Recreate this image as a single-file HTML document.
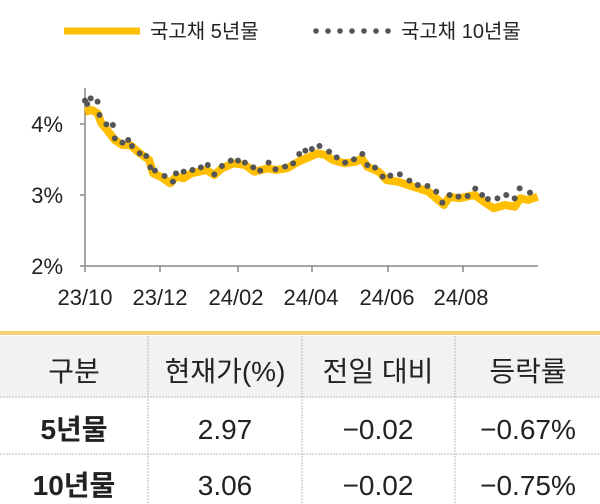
<!DOCTYPE html>
<html><head><meta charset="utf-8"><style>
body{margin:0;width:600px;height:504px;background:#fff;overflow:hidden;font-family:"Liberation Sans","Noto Sans CJK KR",sans-serif;}
svg{position:absolute;left:0;top:0}
</style></head><body>
<svg id="s" width="600" height="504" xmlns="http://www.w3.org/2000/svg" font-family="Liberation Sans, Noto Sans CJK KR, sans-serif">
<line x1="64" y1="31" x2="140" y2="31" stroke="#ffbf00" stroke-width="7"/>
<text x="150" y="38" font-size="20" fill="#222">국고채 5년물</text>
<g fill="#555"><circle cx="316" cy="31" r="2.8"/><circle cx="328" cy="31" r="2.8"/><circle cx="340" cy="31" r="2.8"/><circle cx="352" cy="31" r="2.8"/><circle cx="364" cy="31" r="2.8"/><circle cx="376" cy="31" r="2.8"/><circle cx="388" cy="31" r="2.8"/></g>
<text x="401" y="38" font-size="20" fill="#222">국고채 10년물</text>
<g stroke="#888" stroke-width="1.5">
<line x1="85" y1="88" x2="85" y2="266"/><line x1="85" y1="266" x2="538" y2="266"/>
<line x1="80" y1="266" x2="85" y2="266"/><line x1="80" y1="195" x2="85" y2="195"/><line x1="80" y1="124" x2="85" y2="124"/>
<line x1="85" y1="266" x2="85" y2="272"/><line x1="160" y1="266" x2="160" y2="272"/><line x1="238" y1="266" x2="238" y2="272"/><line x1="312" y1="266" x2="312" y2="272"/><line x1="388" y1="266" x2="388" y2="272"/><line x1="463" y1="266" x2="463" y2="272"/>
</g>
<g font-size="22" fill="#222" text-anchor="end">
<text x="63" y="132">4%</text><text x="63" y="203">3%</text><text x="63" y="274">2%</text></g>
<g font-size="22" fill="#222" text-anchor="middle">
<text x="85" y="305">23/10</text><text x="160" y="305">23/12</text><text x="236" y="305">24/02</text><text x="311" y="305">24/04</text><text x="387" y="305">24/06</text><text x="461" y="305">24/08</text></g>
<g id="ch"></g>
<rect x="0" y="331" width="600" height="4" fill="#f7d27a"/>
<rect x="0" y="336" width="600" height="61" fill="#f2f2f2"/>
<g stroke="#bbb" stroke-width="1" stroke-dasharray="2,1">
<line x1="0" y1="397" x2="600" y2="397"/><line x1="0" y1="454" x2="600" y2="454"/>
<line x1="148" y1="336" x2="148" y2="504"/><line x1="302" y1="336" x2="302" y2="504"/><line x1="455" y1="336" x2="455" y2="504"/>
</g>
<g font-size="28" fill="#222" text-anchor="middle">
<text x="74" y="381">구분</text><text x="225" y="381">현재가(%)</text><text x="378" y="381">전일 대비</text><text x="528" y="381">등락률</text>
<text x="74" y="439" font-weight="bold">5년물</text><text x="225" y="439">2.97</text><text x="378" y="439">−0.02</text><text x="528" y="439">−0.67%</text>
<text x="74" y="495" font-weight="bold">10년물</text><text x="225" y="495">3.06</text><text x="378" y="495">−0.02</text><text x="528" y="495">−0.75%</text>
</g>
</svg>
<script>
var fx=600/1568,ns="http://www.w3.org/2000/svg",g=document.getElementById("ch");
function P(a){return [a[0]*fx,80+a[1]/3];}
var L=[[222,95],[240,90],[255,100],[265,130],[280,150],[300,180],[320,195],[340,195],[360,215],[390,240],[400,280],[420,290],[445,310],[460,290],[480,295],[500,280],[540,270],[560,285],[580,265],[610,250],[640,255],[665,275],[700,265],[720,270],[750,265],[780,245],[800,235],[830,220],[850,225],[870,240],[900,250],[930,245],[945,235],[960,260],[990,275],[1010,300],[1040,305],[1080,320],[1120,335],[1150,365],[1160,375],[1175,350],[1200,355],[1240,345],[1270,370],[1290,385],[1320,375],[1345,380],[1360,355],[1380,360],[1405,350]];
var d=L.map(function(a,i){var p=P(a);return (i?"L":"M")+p[0].toFixed(1)+","+p[1].toFixed(1);}).join("");
var pa=document.createElementNS(ns,"path");pa.setAttribute("d",d);pa.setAttribute("fill","none");pa.setAttribute("stroke","#ffbf00");pa.setAttribute("stroke-width","8");pa.setAttribute("stroke-linejoin","round");g.appendChild(pa);
var D=[[222,62],[228,72],[237,55],[255,65],[260,105],[278,133],[295,135],[300,175],[320,188],[335,180],[345,198],[365,220],[382,228],[393,262],[405,272],[430,288],[452,305],[460,280],[480,275],[503,270],[525,262],[543,255],[560,283],[580,258],[603,242],[622,242],[640,248],[662,262],[680,272],[702,248],[720,268],[745,260],[766,250],[782,222],[798,212],[815,207],[835,198],[860,215],[880,232],[902,248],[925,238],[947,222],[960,255],[980,263],[1000,290],[1020,287],[1045,283],[1070,302],[1092,315],[1117,318],[1140,335],[1156,368],[1175,345],[1198,350],[1222,348],[1242,326],[1260,345],[1275,357],[1300,355],[1323,345],[1345,355],[1358,325],[1385,338]];
D.forEach(function(a){var p=P(a),c=document.createElementNS(ns,"circle");c.setAttribute("cx",p[0]);c.setAttribute("cy",p[1]);c.setAttribute("r","3");c.setAttribute("fill","#555");g.appendChild(c);});
</script>
</body></html>
